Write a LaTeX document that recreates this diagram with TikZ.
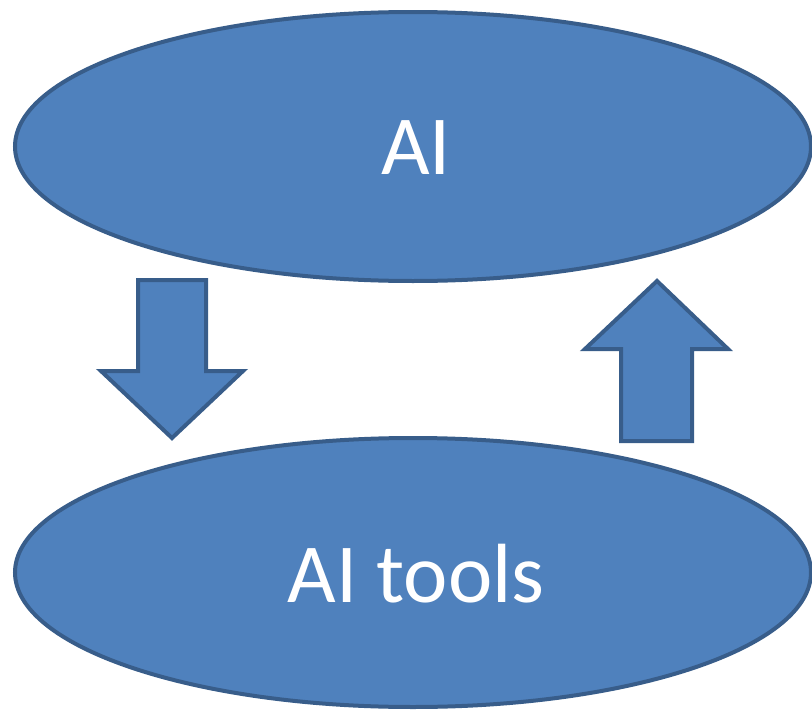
\documentclass[tikz,border=0pt]{standalone}
\usepackage{fontspec}
\setmainfont{Carlito}
\usetikzlibrary{shapes.geometric}
\definecolor{blobfill}{HTML}{4F81BD}
\definecolor{blobline}{HTML}{385D8A}
\begin{document}
\begin{tikzpicture}[x=1pt,y=-1pt,
  blob/.style={ellipse, draw=blobline, fill=blobfill, line width=4pt,
    minimum width=796pt, minimum height=269pt, inner sep=0pt},
  lbl/.style={text=white, font=\fontsize{84}{90}\selectfont, inner sep=0pt, anchor=base},
  blockarrow/.style={draw=blobline, fill=blobfill, line width=4pt, line join=miter}]
  \useasboundingbox (0,0) rectangle (812,712);
  % the two ellipses
  \node[blob] (ai) at (413,146.5) {};
  \node[blob] (tools) at (413,572.5) {};
  \node[lbl] (aitext) at ([xshift=3pt,yshift=-27.5pt]ai.center) {AI};
  \node[lbl] (toolstext) at ([xshift=3pt,yshift=-29.5pt]tools.center) {AI tools};
  % block arrow pointing down
  \draw[blockarrow] (138,280) -- (206,280) -- (206,371) -- (243,371)
    -- (172,438) -- (101,371) -- (138,371) -- cycle;
  % block arrow pointing up
  \draw[blockarrow] (657,281) -- (728,349) -- (692,349) -- (692,441)
    -- (621,441) -- (621,349) -- (585,349) -- cycle;
\end{tikzpicture}
\end{document}
